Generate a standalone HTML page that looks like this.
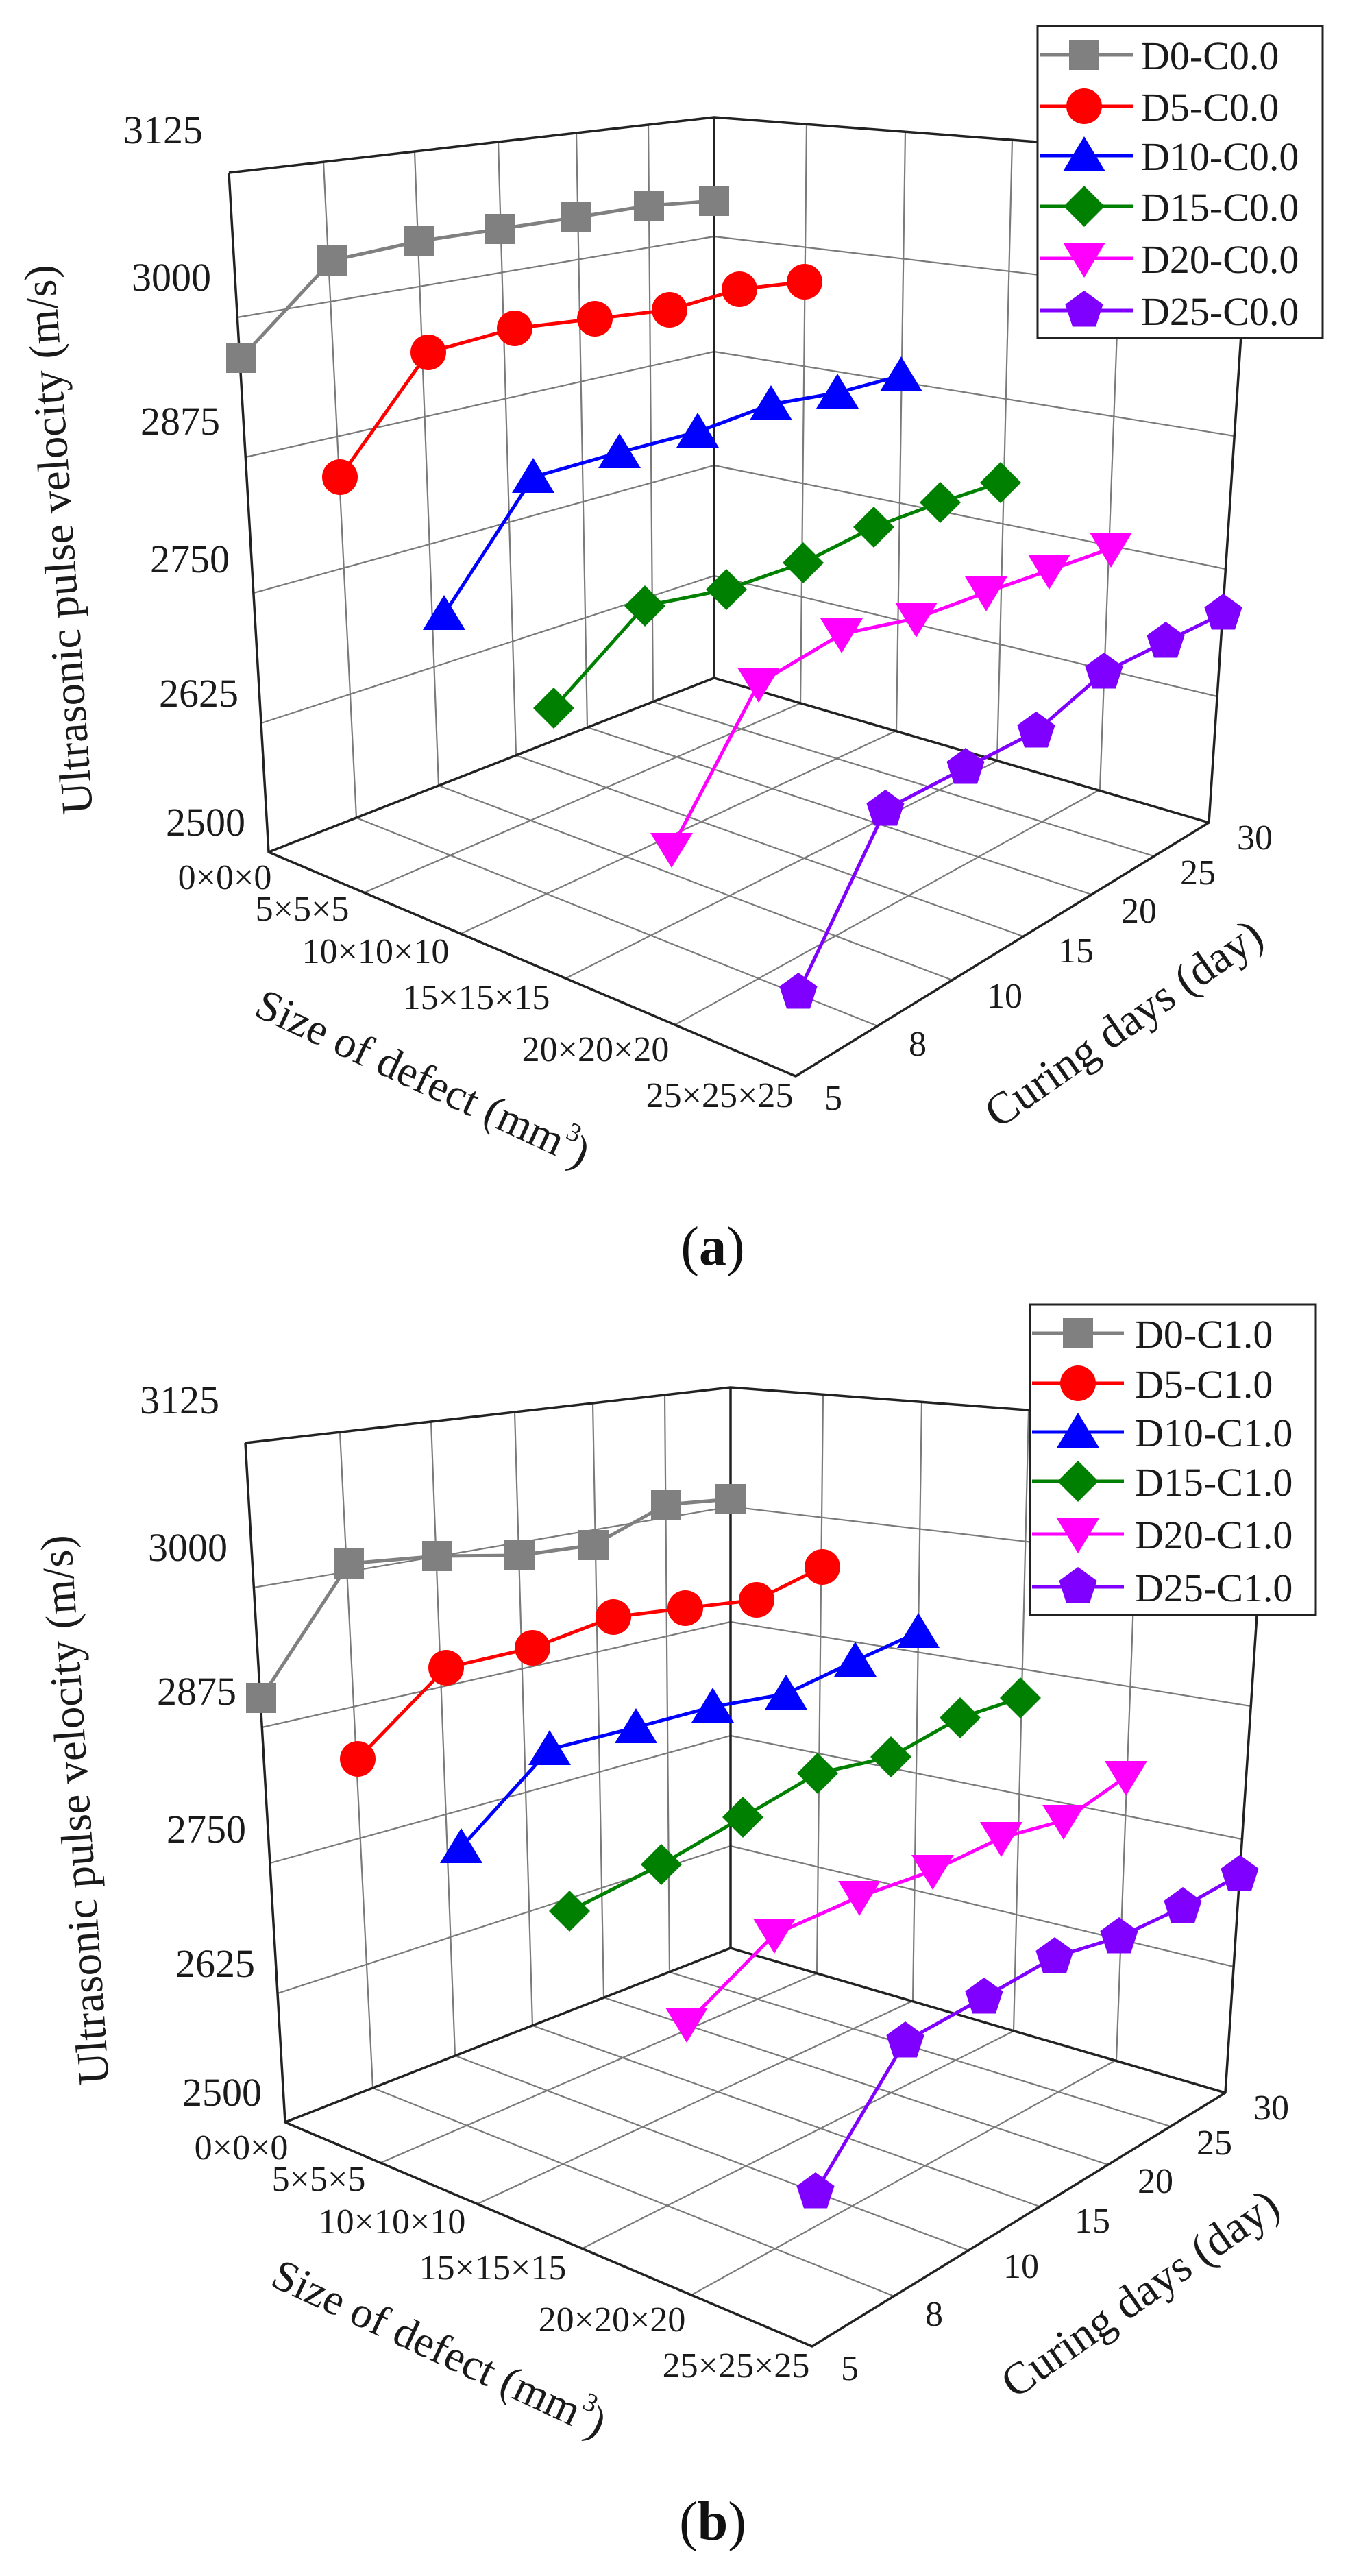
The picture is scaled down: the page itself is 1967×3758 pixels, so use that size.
<!DOCTYPE html>
<html>
<head>
<meta charset="utf-8">
<style>
html,body{margin:0;padding:0;background:#fff;}
svg{display:block;}
</style>
</head>
<body>
<svg xmlns="http://www.w3.org/2000/svg" width="1967" height="3758" viewBox="0 0 1967 3758">
<rect width="1967" height="3758" fill="#fff"/>
<defs>
<rect id="mS" x="-22" y="-22" width="44" height="44"/>
<circle id="mC" cx="0" cy="0" r="26"/>
<polygon id="mT" points="0,-28 31,23 -31,23"/>
<polygon id="mV" points="0,28 31,-23 -31,-23"/>
<polygon id="mD" points="0,-30 30,0 0,30 -30,0"/>
<polygon id="mP" points="0,-29 27.6,-9 17,23.5 -17,23.5 -27.6,-9"/>
</defs>

<!-- ================= PANEL (a) FRAME ================= -->
<g>
<g stroke="#7a7a7a" stroke-width="2.2" fill="none">
 <line x1="472" y1="236" x2="520" y2="1193"/>
 <line x1="605" y1="221" x2="640" y2="1146"/>
 <line x1="727" y1="207" x2="753" y2="1102"/>
 <line x1="841" y1="194" x2="857" y2="1061"/>
 <line x1="946" y1="182" x2="953" y2="1024"/>
 <line x1="346" y1="463" x2="1042" y2="345"/>
 <line x1="358" y1="667" x2="1042" y2="513"/>
 <line x1="370" y1="865" x2="1042" y2="679"/>
 <line x1="381" y1="1055" x2="1042" y2="840"/>
 <line x1="1177" y1="181" x2="1168" y2="1026"/>
 <line x1="1321" y1="192" x2="1308" y2="1066"/>
 <line x1="1477" y1="204" x2="1455" y2="1110"/>
 <line x1="1640" y1="217" x2="1605" y2="1152"/>
 <line x1="1042" y1="345" x2="1814" y2="436"/>
 <line x1="1042" y1="513" x2="1801" y2="636"/>
 <line x1="1042" y1="679" x2="1788" y2="830"/>
 <line x1="1042" y1="840" x2="1776" y2="1016"/>
 <line x1="520" y1="1193" x2="1281" y2="1497"/>
 <line x1="640" y1="1146" x2="1390" y2="1430"/>
 <line x1="753" y1="1102" x2="1493" y2="1366"/>
 <line x1="857" y1="1061" x2="1593" y2="1305"/>
 <line x1="953" y1="1024" x2="1684" y2="1249"/>
 <line x1="532" y1="1302" x2="1168" y2="1026"/>
 <line x1="673" y1="1362" x2="1308" y2="1066"/>
 <line x1="826" y1="1427" x2="1455" y2="1110"/>
 <line x1="985" y1="1495" x2="1605" y2="1152"/>
</g>
<g stroke="#222" stroke-width="3.5" fill="none" stroke-linejoin="round">
 <polyline points="334,252 392,1243 1161,1570 1764,1200 1828,231 1042,171 334,252"/>
 <line x1="1042" y1="171" x2="1042" y2="989"/>
 <polyline points="392,1243 1042,989 1764,1200"/>
</g>
<g font-family="'Liberation Serif', serif" fill="#1a1a1a">
 <g font-size="58" text-anchor="middle">
  <text x="238" y="209">3125</text>
  <text x="250" y="424">3000</text>
  <text x="263" y="634">2875</text>
  <text x="277" y="835">2750</text>
  <text x="290" y="1031">2625</text>
  <text x="300" y="1219">2500</text>
 </g>
 <g font-size="52" text-anchor="middle">
  <text x="328" y="1297">0×0×0</text>
  <text x="441" y="1343">5×5×5</text>
  <text x="548" y="1405">10×10×10</text>
  <text x="695" y="1472">15×15×15</text>
  <text x="869" y="1548">20×20×20</text>
  <text x="1050" y="1615">25×25×25</text>
  <text x="1216" y="1619">5</text>
  <text x="1339" y="1540">8</text>
  <text x="1466" y="1470">10</text>
  <text x="1570" y="1404">15</text>
  <text x="1662" y="1346">20</text>
  <text x="1748" y="1290">25</text>
  <text x="1831" y="1239">30</text>
 </g>
 <text transform="translate(107,786) rotate(-94)" text-anchor="middle" font-size="65">Ultrasonic pulse velocity (m/s)</text>
 <text transform="translate(608,1592) rotate(25)" text-anchor="middle" font-size="64">Size of defect (mm<tspan font-size="38" dy="-30">3</tspan><tspan dy="30">)</tspan></text>
 <text transform="translate(1652,1511) rotate(-35)" text-anchor="middle" font-size="66">Curing days (day)</text>
</g>
</g>

<!-- ================= PANEL (a) DATA ================= -->
<g fill="none" stroke-width="5" stroke-linejoin="round">
 <polyline stroke="#808080" points="352,522 484,380 611,352 730,334 841,317 947,300 1042,293"/>
 <polyline stroke="#ff0000" points="496,696 625,514 751,479 868,465 977,452 1079,422 1174,411"/>
 <polyline stroke="#0000ff" points="648,896 778,696 904,660 1018,630 1125,590 1222,573 1315,548"/>
 <polyline stroke="#008000" points="808,1033 941,884 1060,860 1172,821 1275,769 1372,733 1460,704"/>
 <polyline stroke="#ff00ff" points="980,1238 1107,997 1228,925 1337,902 1439,864 1531,832 1621,800"/>
 <polyline stroke="#8000ff" points="1165,1448 1292,1181 1409,1120 1512,1067 1611,981 1701,936 1785,895"/>
</g>
<g fill="#808080">
 <use href="#mS" x="352" y="522"/><use href="#mS" x="484" y="380"/><use href="#mS" x="611" y="352"/><use href="#mS" x="730" y="334"/><use href="#mS" x="841" y="317"/><use href="#mS" x="947" y="300"/><use href="#mS" x="1042" y="293"/>
</g>
<g fill="#ff0000">
 <use href="#mC" x="496" y="696"/><use href="#mC" x="625" y="514"/><use href="#mC" x="751" y="479"/><use href="#mC" x="868" y="465"/><use href="#mC" x="977" y="452"/><use href="#mC" x="1079" y="422"/><use href="#mC" x="1174" y="411"/>
</g>
<g fill="#0000ff">
 <use href="#mT" x="648" y="896"/><use href="#mT" x="778" y="696"/><use href="#mT" x="904" y="660"/><use href="#mT" x="1018" y="630"/><use href="#mT" x="1125" y="590"/><use href="#mT" x="1222" y="573"/><use href="#mT" x="1315" y="548"/>
</g>
<g fill="#008000">
 <use href="#mD" x="808" y="1033"/><use href="#mD" x="941" y="884"/><use href="#mD" x="1060" y="860"/><use href="#mD" x="1172" y="821"/><use href="#mD" x="1275" y="769"/><use href="#mD" x="1372" y="733"/><use href="#mD" x="1460" y="704"/>
</g>
<g fill="#ff00ff">
 <use href="#mV" x="980" y="1238"/><use href="#mV" x="1107" y="997"/><use href="#mV" x="1228" y="925"/><use href="#mV" x="1337" y="902"/><use href="#mV" x="1439" y="864"/><use href="#mV" x="1531" y="832"/><use href="#mV" x="1621" y="800"/>
</g>
<g fill="#8000ff">
 <use href="#mP" x="1165" y="1448"/><use href="#mP" x="1292" y="1181"/><use href="#mP" x="1409" y="1120"/><use href="#mP" x="1512" y="1067"/><use href="#mP" x="1611" y="981"/><use href="#mP" x="1701" y="936"/><use href="#mP" x="1785" y="895"/>
</g>

<!-- legend (a) -->
<g>
 <rect x="1514" y="38" width="416" height="455" fill="#fff" stroke="#222" stroke-width="3"/>
 <g stroke-width="5">
  <line x1="1517" y1="80" x2="1653" y2="80" stroke="#808080"/>
  <line x1="1517" y1="155" x2="1653" y2="155" stroke="#ff0000"/>
  <line x1="1517" y1="227" x2="1653" y2="227" stroke="#0000ff"/>
  <line x1="1517" y1="301" x2="1653" y2="301" stroke="#008000"/>
  <line x1="1517" y1="377" x2="1653" y2="377" stroke="#ff00ff"/>
  <line x1="1517" y1="453" x2="1653" y2="453" stroke="#8000ff"/>
 </g>
 <use href="#mS" x="1582" y="80" fill="#808080"/>
 <use href="#mC" x="1582" y="155" fill="#ff0000"/>
 <use href="#mT" x="1582" y="227" fill="#0000ff"/>
 <use href="#mD" x="1582" y="301" fill="#008000"/>
 <use href="#mV" x="1582" y="377" fill="#ff00ff"/>
 <use href="#mP" x="1582" y="453" fill="#8000ff"/>
 <g font-family="'Liberation Serif', serif" font-size="58" fill="#1a1a1a">
  <text x="1665" y="101">D0-C0.0</text>
  <text x="1665" y="176">D5-C0.0</text>
  <text x="1665" y="248">D10-C0.0</text>
  <text x="1665" y="322">D15-C0.0</text>
  <text x="1665" y="398">D20-C0.0</text>
  <text x="1665" y="474">D25-C0.0</text>
 </g>
</g>

<text x="1040" y="1845" text-anchor="middle" font-family="'Liberation Serif', serif" font-size="80" fill="#111">(<tspan font-weight="bold">a</tspan>)</text>

<!-- ================= PANEL (b) FRAME ================= -->
<g transform="translate(24,1853)">
<g stroke="#7a7a7a" stroke-width="2.2" fill="none">
 <line x1="472" y1="236" x2="520" y2="1193"/>
 <line x1="605" y1="221" x2="640" y2="1146"/>
 <line x1="727" y1="207" x2="753" y2="1102"/>
 <line x1="841" y1="194" x2="857" y2="1061"/>
 <line x1="946" y1="182" x2="953" y2="1024"/>
 <line x1="346" y1="463" x2="1042" y2="345"/>
 <line x1="358" y1="667" x2="1042" y2="513"/>
 <line x1="370" y1="865" x2="1042" y2="679"/>
 <line x1="381" y1="1055" x2="1042" y2="840"/>
 <line x1="1177" y1="181" x2="1168" y2="1026"/>
 <line x1="1321" y1="192" x2="1308" y2="1066"/>
 <line x1="1477" y1="204" x2="1455" y2="1110"/>
 <line x1="1640" y1="217" x2="1605" y2="1152"/>
 <line x1="1042" y1="345" x2="1814" y2="436"/>
 <line x1="1042" y1="513" x2="1801" y2="636"/>
 <line x1="1042" y1="679" x2="1788" y2="830"/>
 <line x1="1042" y1="840" x2="1776" y2="1016"/>
 <line x1="520" y1="1193" x2="1281" y2="1497"/>
 <line x1="640" y1="1146" x2="1390" y2="1430"/>
 <line x1="753" y1="1102" x2="1493" y2="1366"/>
 <line x1="857" y1="1061" x2="1593" y2="1305"/>
 <line x1="953" y1="1024" x2="1684" y2="1249"/>
 <line x1="532" y1="1302" x2="1168" y2="1026"/>
 <line x1="673" y1="1362" x2="1308" y2="1066"/>
 <line x1="826" y1="1427" x2="1455" y2="1110"/>
 <line x1="985" y1="1495" x2="1605" y2="1152"/>
</g>
<g stroke="#222" stroke-width="3.5" fill="none" stroke-linejoin="round">
 <polyline points="334,252 392,1243 1161,1570 1764,1200 1828,231 1042,171 334,252"/>
 <line x1="1042" y1="171" x2="1042" y2="989"/>
 <polyline points="392,1243 1042,989 1764,1200"/>
</g>
<g font-family="'Liberation Serif', serif" fill="#1a1a1a">
 <g font-size="58" text-anchor="middle">
  <text x="238" y="209">3125</text>
  <text x="250" y="424">3000</text>
  <text x="263" y="634">2875</text>
  <text x="277" y="835">2750</text>
  <text x="290" y="1031">2625</text>
  <text x="300" y="1219">2500</text>
 </g>
 <g font-size="52" text-anchor="middle">
  <text x="328" y="1297">0×0×0</text>
  <text x="441" y="1343">5×5×5</text>
  <text x="548" y="1405">10×10×10</text>
  <text x="695" y="1472">15×15×15</text>
  <text x="869" y="1548">20×20×20</text>
  <text x="1050" y="1615">25×25×25</text>
  <text x="1216" y="1619">5</text>
  <text x="1339" y="1540">8</text>
  <text x="1466" y="1470">10</text>
  <text x="1570" y="1404">15</text>
  <text x="1662" y="1346">20</text>
  <text x="1748" y="1290">25</text>
  <text x="1831" y="1239">30</text>
 </g>
 <text transform="translate(107,786) rotate(-94)" text-anchor="middle" font-size="65">Ultrasonic pulse velocity (m/s)</text>
 <text transform="translate(608,1592) rotate(25)" text-anchor="middle" font-size="64">Size of defect (mm<tspan font-size="38" dy="-30">3</tspan><tspan dy="30">)</tspan></text>
 <text transform="translate(1652,1511) rotate(-35)" text-anchor="middle" font-size="66">Curing days (day)</text>
</g>
</g>

<!-- ================= PANEL (b) DATA ================= -->
<g fill="none" stroke-width="5" stroke-linejoin="round">
 <polyline stroke="#808080" points="381,2477 509,2281 638,2270 758,2269 866,2254 972,2195 1066,2187"/>
 <polyline stroke="#ff0000" points="522,2566 651,2433 777,2404 895,2359 1000,2346 1104,2334 1200,2286"/>
 <polyline stroke="#0000ff" points="673,2695 802,2552 928,2520 1040,2490 1147,2471 1248,2423 1340,2381"/>
 <polyline stroke="#008000" points="831,2788 965,2720 1084,2651 1193,2587 1300,2563 1401,2506 1489,2477"/>
 <polyline stroke="#ff00ff" points="1002,2952 1130,2822 1254,2767 1361,2729 1461,2681 1552,2656 1643,2592"/>
 <polyline stroke="#8000ff" points="1190,3198 1321,2978 1436,2914 1539,2855 1633,2826 1726,2782 1809,2735"/>
</g>
<g fill="#808080">
 <use href="#mS" x="381" y="2477"/><use href="#mS" x="509" y="2281"/><use href="#mS" x="638" y="2270"/><use href="#mS" x="758" y="2269"/><use href="#mS" x="866" y="2254"/><use href="#mS" x="972" y="2195"/><use href="#mS" x="1066" y="2187"/>
</g>
<g fill="#ff0000">
 <use href="#mC" x="522" y="2566"/><use href="#mC" x="651" y="2433"/><use href="#mC" x="777" y="2404"/><use href="#mC" x="895" y="2359"/><use href="#mC" x="1000" y="2346"/><use href="#mC" x="1104" y="2334"/><use href="#mC" x="1200" y="2286"/>
</g>
<g fill="#0000ff">
 <use href="#mT" x="673" y="2695"/><use href="#mT" x="802" y="2552"/><use href="#mT" x="928" y="2520"/><use href="#mT" x="1040" y="2490"/><use href="#mT" x="1147" y="2471"/><use href="#mT" x="1248" y="2423"/><use href="#mT" x="1340" y="2381"/>
</g>
<g fill="#008000">
 <use href="#mD" x="831" y="2788"/><use href="#mD" x="965" y="2720"/><use href="#mD" x="1084" y="2651"/><use href="#mD" x="1193" y="2587"/><use href="#mD" x="1300" y="2563"/><use href="#mD" x="1401" y="2506"/><use href="#mD" x="1489" y="2477"/>
</g>
<g fill="#ff00ff">
 <use href="#mV" x="1002" y="2952"/><use href="#mV" x="1130" y="2822"/><use href="#mV" x="1254" y="2767"/><use href="#mV" x="1361" y="2729"/><use href="#mV" x="1461" y="2681"/><use href="#mV" x="1552" y="2656"/><use href="#mV" x="1643" y="2592"/>
</g>
<g fill="#8000ff">
 <use href="#mP" x="1190" y="3198"/><use href="#mP" x="1321" y="2978"/><use href="#mP" x="1436" y="2914"/><use href="#mP" x="1539" y="2855"/><use href="#mP" x="1633" y="2826"/><use href="#mP" x="1726" y="2782"/><use href="#mP" x="1809" y="2735"/>
</g>

<!-- legend (b) -->
<g>
 <rect x="1503" y="1903" width="417" height="453" fill="#fff" stroke="#222" stroke-width="3"/>
 <g stroke-width="5">
  <line x1="1506" y1="1945" x2="1640" y2="1945" stroke="#808080"/>
  <line x1="1506" y1="2018" x2="1640" y2="2018" stroke="#ff0000"/>
  <line x1="1506" y1="2089" x2="1640" y2="2089" stroke="#0000ff"/>
  <line x1="1506" y1="2161" x2="1640" y2="2161" stroke="#008000"/>
  <line x1="1506" y1="2238" x2="1640" y2="2238" stroke="#ff00ff"/>
  <line x1="1506" y1="2315" x2="1640" y2="2315" stroke="#8000ff"/>
 </g>
 <use href="#mS" x="1573" y="1945" fill="#808080"/>
 <use href="#mC" x="1573" y="2018" fill="#ff0000"/>
 <use href="#mT" x="1573" y="2089" fill="#0000ff"/>
 <use href="#mD" x="1573" y="2161" fill="#008000"/>
 <use href="#mV" x="1573" y="2238" fill="#ff00ff"/>
 <use href="#mP" x="1573" y="2315" fill="#8000ff"/>
 <g font-family="'Liberation Serif', serif" font-size="58" fill="#1a1a1a">
  <text x="1656" y="1966">D0-C1.0</text>
  <text x="1656" y="2039">D5-C1.0</text>
  <text x="1656" y="2110">D10-C1.0</text>
  <text x="1656" y="2182">D15-C1.0</text>
  <text x="1656" y="2259">D20-C1.0</text>
  <text x="1656" y="2336">D25-C1.0</text>
 </g>
</g>

<text x="1040" y="3705" text-anchor="middle" font-family="'Liberation Serif', serif" font-size="80" fill="#111">(<tspan font-weight="bold">b</tspan>)</text>
</svg>
</body>
</html>
